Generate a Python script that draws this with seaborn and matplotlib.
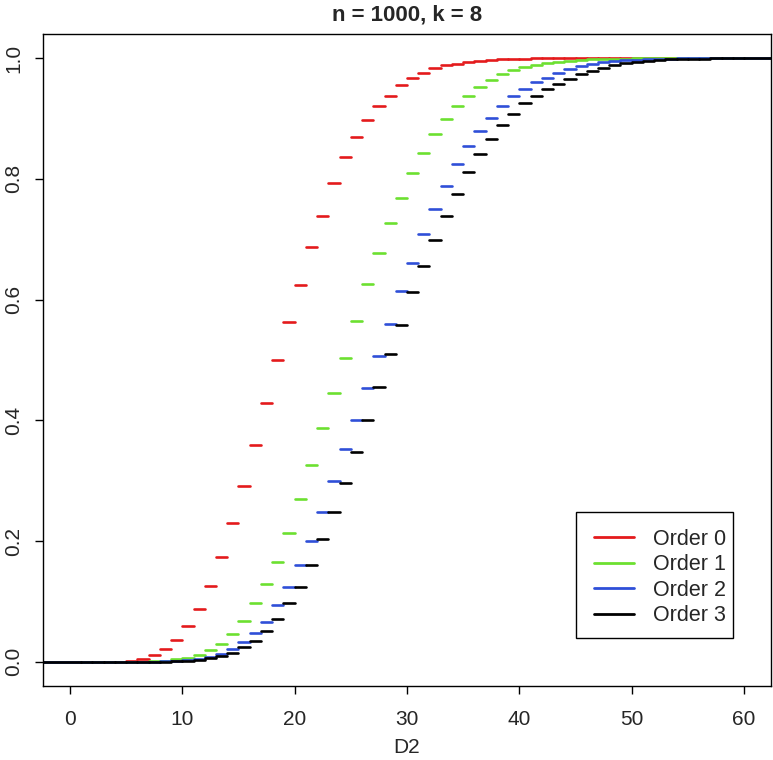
import matplotlib
matplotlib.use("Agg")
import matplotlib.pyplot as plt
import matplotlib.patches as mpatches
import seaborn as sns
import pandas as pd
import numpy as np

# ---- data ----
x_vals = list(range(0, 61))

order0 = [0, 0, 0, 0.0001, 0.0005, 0.0015, 0.005, 0.012, 0.022, 0.037,
          0.059, 0.0875, 0.126, 0.173, 0.230, 0.291, 0.360, 0.4295, 0.500, 0.563,
          0.624, 0.687, 0.739, 0.793, 0.836, 0.870, 0.898, 0.920, 0.938, 0.955,
          0.967, 0.976, 0.984, 0.988, 0.991, 0.994, 0.996, 0.997, 0.998, 0.9987,
          0.9992, 0.9995, 0.9997, 0.9998, 0.9999, 0.9999, 1, 1, 1, 1,
          1, 1, 1, 1, 1, 1, 1, 1, 1, 1, 1]

order1 = [0, 0, 0, 0, 0, 0.0002, 0.0005, 0.001, 0.002, 0.004,
          0.007, 0.012, 0.0196, 0.030, 0.0467, 0.0676, 0.098, 0.129, 0.166, 0.213,
          0.269, 0.326, 0.387, 0.446, 0.503, 0.565, 0.626, 0.678, 0.727, 0.769,
          0.809, 0.8426, 0.8736, 0.899, 0.9205, 0.938, 0.9525, 0.964, 0.9735, 0.9806,
          0.985, 0.989, 0.992, 0.994, 0.996, 0.997, 0.998, 0.9986, 0.999, 0.9994,
          0.9996, 0.9997, 0.9998, 0.9999, 0.9999, 1, 1, 1, 1, 1, 1]

order2 = [0, 0, 0, 0, 0, 0, 0.0002, 0.0004, 0.0008, 0.0015,
          0.0025, 0.0045, 0.0075, 0.0124, 0.0212, 0.0328, 0.0477, 0.0666, 0.0936, 0.1234,
          0.160, 0.1997, 0.248, 0.300, 0.353, 0.401, 0.453, 0.506, 0.5597, 0.614,
          0.6615, 0.709, 0.750, 0.788, 0.824, 0.8547, 0.880, 0.9006, 0.920, 0.9365,
          0.9486, 0.960, 0.9674, 0.975, 0.9818, 0.9867, 0.990, 0.993, 0.995, 0.9965,
          0.9975, 0.9983, 0.9989, 0.9993, 0.9995, 0.9997, 0.9998, 0.9999, 0.9999, 1, 1]

order3 = [0, 0, 0, 0, 0, 0, 0, 0.0002, 0.0004, 0.0008,
          0.0015, 0.003, 0.006, 0.010, 0.0152, 0.0245, 0.0345, 0.0517, 0.0704, 0.097,
          0.1246, 0.160, 0.203, 0.248, 0.297, 0.348, 0.400, 0.456, 0.5095, 0.5576,
          0.612, 0.6553, 0.698, 0.7387, 0.7747, 0.8106, 0.8414, 0.8658, 0.8895, 0.9072,
          0.925, 0.9377, 0.9486, 0.957, 0.966, 0.973, 0.979, 0.984, 0.988, 0.9917,
          0.994, 0.996, 0.997, 0.998, 0.9986, 0.999, 0.9994, 0.9996, 0.9998, 0.9999, 1]

series_labels = ["Order 0", "Order 1", "Order 2", "Order 3"]
series_values = [order0, order1, order2, order3]
colors = ["#E41A1C", "#6CE030", "#2F4FD8", "#000000"]

title = "n = 1000, k = 8"
xlabel = "D2"
x_ticks = [0, 10, 20, 30, 40, 50, 60]
y_ticks = [0.0, 0.2, 0.4, 0.6, 0.8, 1.0]

XMIN, XMAX = -2.4, 62.4
YMIN, YMAX = -0.04, 1.04

# ---- build long table of horizontal step segments ----
rows = []
for lab, vals in zip(series_labels, series_values):
    n = len(x_vals)
    for i, (xv, fv) in enumerate(zip(x_vals, vals)):
        x0 = XMIN if i == 0 else xv
        x1 = XMAX if i == n - 1 else xv + 1
        rows.append({"x": x0, "F": fv, "order": lab, "seg": i})
        rows.append({"x": x1, "F": fv, "order": lab, "seg": i})
df = pd.DataFrame(rows)

sns.set_theme(style="white")
plt.rcParams["font.family"] = ["Liberation Sans", "DejaVu Sans"]

W, H = 773, 760
fig = plt.figure(figsize=(W / 100, H / 100), dpi=100)
ax = fig.add_axes([43 / W, 1 - 686 / H, (771 - 43) / W, (686 - 34) / H])

sns.lineplot(data=df, x="x", y="F", hue="order", units="seg", estimator=None,
             sort=False, palette=dict(zip(series_labels, colors)),
             hue_order=series_labels, linewidth=1.9, ax=ax,
             solid_capstyle="round")

ax.set_xlim(XMIN, XMAX)
ax.set_ylim(YMIN, YMAX)
ax.set_xticks(x_ticks)
ax.set_xticklabels([str(t) for t in x_ticks], fontsize=15)
ax.set_yticks(y_ticks)
ax.set_yticklabels([f"{t:.1f}" for t in y_ticks], fontsize=15, rotation=90,
                   va="center")
ax.tick_params(axis="both", which="both", direction="out", length=6, width=1,
               color="black", left=True, bottom=True)
ax.tick_params(axis="x", pad=11)
ax.tick_params(axis="y", pad=8)
for s in ax.spines.values():
    s.set_visible(True)
    s.set_color("black")
    s.set_linewidth(1.0)

ax.set_xlabel(xlabel, fontsize=15, labelpad=7)
ax.set_ylabel("")
ax.set_title(title, fontsize=16, fontweight="bold", pad=10)

# legend frame drawn as a plain box, legend entries inside it
box = mpatches.Rectangle((576 / W, 1 - 638 / H), (733 - 576) / W, (638 - 512) / H,
                         transform=fig.transFigure, facecolor="white",
                         edgecolor="black", linewidth=1.0, zorder=4, clip_on=False)
ax.add_patch(box)

handles, labels = ax.get_legend_handles_labels()
for h in handles:
    h.set_linewidth(2.0)
leg = ax.legend(handles, labels, loc="center left",
                bbox_to_anchor=(594 / W, 1 - 577.5 / H),
                bbox_transform=fig.transFigure, fontsize=15.5,
                frameon=False, handlelength=1.86, handletextpad=0.88,
                labelspacing=0.215, borderpad=0, borderaxespad=0)
leg.set_zorder(5)

fig.savefig("out.png", dpi=100)
